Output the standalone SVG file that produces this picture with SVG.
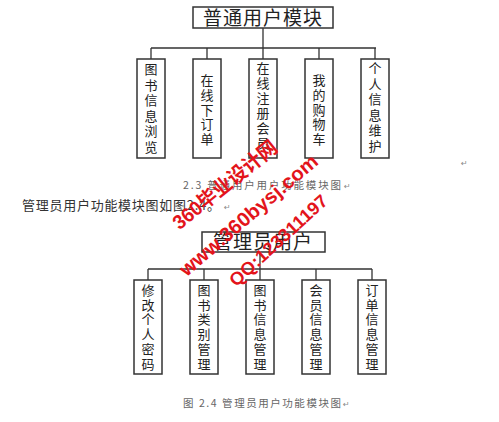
<svg xmlns="http://www.w3.org/2000/svg" width="499" height="422" viewBox="0 0 499 422">
<style>
.box{fill:#fff;stroke:#333;stroke-width:1.5}
.ln{fill:none;stroke:#333;stroke-width:1.3}
.t{font-family:"Noto Sans CJK SC","Noto Sans",sans-serif;fill:#222}
.title{font-size:19px;text-anchor:middle;letter-spacing:1px}
.v{font-size:13px;text-anchor:middle}
.cap{font-family:"Noto Sans CJK SC","Liberation Serif",sans-serif;font-size:10.5px;fill:#666}
.body{font-family:"Noto Sans CJK SC","Liberation Serif",sans-serif;font-size:13px;fill:#333}
.ret{font-family:"DejaVu Sans",sans-serif;font-size:8px;fill:#888}
.wm{font-family:"Liberation Sans","Noto Sans CJK SC",sans-serif;font-weight:bold;fill:#e3141b;dominant-baseline:central}
</style>
<rect width="499" height="422" fill="#fff"/>

<g id="connectors">
<path class="ln" d="M263 28V48M151 48H376M151 48V59M207 48V59M263 48V59M319 48V59M375 48V59"/>
<path class="ln" d="M260 252V269M148 269H372M148 269V280M204 269V280M260 269V280M316 269V280M372 269V280"/>
</g>

<g id="n-root1"><rect class="box" x="193" y="7" width="140" height="21"/><text class="t title" x="263" y="25">普通用户模块</text></g>
<g id="n-a1"><rect class="box" x="137" y="59" width="28" height="99"/><text class="t v" x="151" y="74"><tspan x="151">图</tspan><tspan x="151" dy="15.5">书</tspan><tspan x="151" dy="15.5">信</tspan><tspan x="151" dy="15.5">息</tspan><tspan x="151" dy="15.5">浏</tspan><tspan x="151" dy="15.5">览</tspan></text></g>
<g id="n-a2"><rect class="box" x="193" y="59" width="28" height="99"/><text class="t v" x="207" y="85"><tspan x="207">在</tspan><tspan x="207" dy="14.8">线</tspan><tspan x="207" dy="14.8">下</tspan><tspan x="207" dy="14.8">订</tspan><tspan x="207" dy="14.8">单</tspan></text></g>
<g id="n-a3"><rect class="box" x="249" y="59" width="28" height="99"/><text class="t v" x="263" y="73"><tspan x="263">在</tspan><tspan x="263" dy="15">线</tspan><tspan x="263" dy="15">注</tspan><tspan x="263" dy="15">册</tspan><tspan x="263" dy="15">会</tspan><tspan x="263" dy="15">员</tspan></text></g>
<g id="n-a4"><rect class="box" x="305" y="59" width="28" height="99"/><text class="t v" x="319" y="85"><tspan x="319">我</tspan><tspan x="319" dy="14.8">的</tspan><tspan x="319" dy="14.8">购</tspan><tspan x="319" dy="14.8">物</tspan><tspan x="319" dy="14.8">车</tspan></text></g>
<g id="n-a5"><rect class="box" x="361" y="59" width="28" height="99"/><text class="t v" x="375" y="73"><tspan x="375">个</tspan><tspan x="375" dy="15.5">人</tspan><tspan x="375" dy="15.5">信</tspan><tspan x="375" dy="15.5">息</tspan><tspan x="375" dy="15.5">维</tspan><tspan x="375" dy="15.5">护</tspan></text></g>

<text class="ret" x="461" y="166">↵</text>
<text class="cap" x="183" y="189" textLength="158" lengthAdjust="spacing">2.3 普通用户用户功能模块图</text>
<text class="ret" x="344" y="189">↵</text>
<text class="body" x="22" y="210" textLength="198" lengthAdjust="spacing">管理员用户功能模块图如图2.4。</text>
<text class="ret" x="224" y="210">↵</text>

<g id="n-root2"><rect class="box" x="202" y="232" width="123" height="20"/><text class="t title" x="263" y="249">管理员用户</text></g>
<g id="n-b1"><rect class="box" x="134" y="280" width="28" height="94"/><text class="t v" x="148" y="295"><tspan x="148">修</tspan><tspan x="148" dy="14.7">改</tspan><tspan x="148" dy="14.7">个</tspan><tspan x="148" dy="14.7">人</tspan><tspan x="148" dy="14.7">密</tspan><tspan x="148" dy="14.7">码</tspan></text></g>
<g id="n-b2"><rect class="box" x="190" y="280" width="28" height="94"/><text class="t v" x="204" y="295"><tspan x="204">图</tspan><tspan x="204" dy="14.7">书</tspan><tspan x="204" dy="14.7">类</tspan><tspan x="204" dy="14.7">别</tspan><tspan x="204" dy="14.7">管</tspan><tspan x="204" dy="14.7">理</tspan></text></g>
<g id="n-b3"><rect class="box" x="246" y="280" width="28" height="94"/><text class="t v" x="260" y="295"><tspan x="260">图</tspan><tspan x="260" dy="14.7">书</tspan><tspan x="260" dy="14.7">信</tspan><tspan x="260" dy="14.7">息</tspan><tspan x="260" dy="14.7">管</tspan><tspan x="260" dy="14.7">理</tspan></text></g>
<g id="n-b4"><rect class="box" x="302" y="280" width="28" height="94"/><text class="t v" x="316" y="295"><tspan x="316">会</tspan><tspan x="316" dy="14.7">员</tspan><tspan x="316" dy="14.7">信</tspan><tspan x="316" dy="14.7">息</tspan><tspan x="316" dy="14.7">管</tspan><tspan x="316" dy="14.7">理</tspan></text></g>
<g id="n-b5"><rect class="box" x="358" y="280" width="28" height="94"/><text class="t v" x="372" y="295"><tspan x="372">订</tspan><tspan x="372" dy="14.7">单</tspan><tspan x="372" dy="14.7">信</tspan><tspan x="372" dy="14.7">息</tspan><tspan x="372" dy="14.7">管</tspan><tspan x="372" dy="14.7">理</tspan></text></g>

<text class="cap" x="183" y="407" textLength="158" lengthAdjust="spacing">图 2.4 管理员用户功能模块图</text>
<text class="ret" x="343" y="407">↵</text>

<g id="watermark">
<text class="wm" x="175" y="225" font-size="20" textLength="128" lengthAdjust="spacingAndGlyphs" transform="rotate(-39 175 225)">360毕业设计网</text>
<text class="wm" x="182" y="272" font-size="20" textLength="175" lengthAdjust="spacingAndGlyphs" transform="rotate(-40.6 182 272)">www.360bysj.com</text>
<text class="wm" x="232" y="283" font-size="18" textLength="126" lengthAdjust="spacingAndGlyphs" transform="rotate(-42.4 232 283)">QQ:123311197</text>
</g>
</svg>
